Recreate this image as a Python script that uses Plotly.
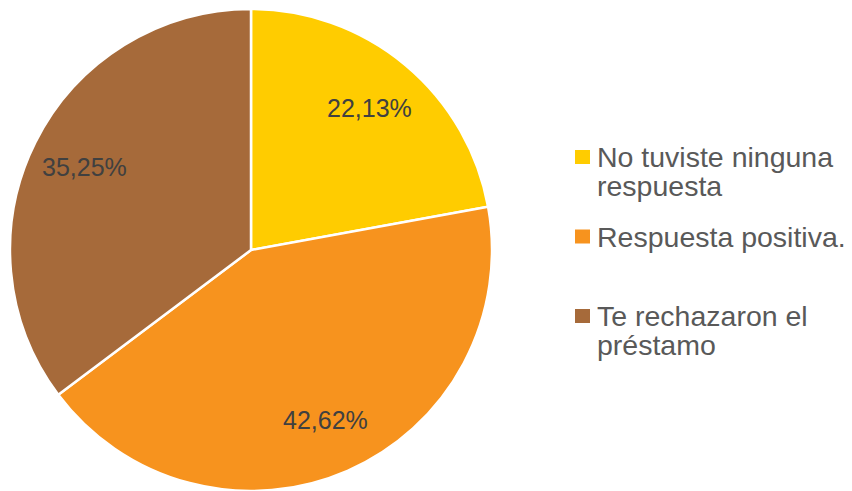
import math
import plotly.graph_objects as go

categories = ["No tuviste ninguna respuesta", "Respuesta positiva.", "Te rechazaron el préstamo"]
legend_lines = [["No tuviste ninguna", "respuesta"], ["Respuesta positiva."], ["Te rechazaron el", "préstamo"]]
values = [22.13, 42.62, 35.25]
text_labels = ["22,13%", "42,62%", "35,25%"]
colors = ["#FFCC00", "#F7931E", "#A66A3A"]

W, H = 852, 491
CX, CY, R = 251, 250, 241

fig = go.Figure(go.Pie(
    labels=categories,
    values=values,
    textinfo="none",
    sort=False,
    direction="clockwise",
    rotation=0,
    marker=dict(colors=colors, line=dict(color="white", width=2.5)),
    domain=dict(x=[(CX - R) / W, (CX + R) / W],
                y=[1 - (CY + R) / H, 1 - (CY - R) / H]),
    hoverinfo="skip",
    showlegend=False,
))

annotations = []
total = sum(values)
cum = 0.0
for v, t in zip(values, text_labels):
    mid = (cum + v / 2) / total * 2 * math.pi
    cum += v
    r = 0.77 * R
    px = CX + r * math.sin(mid)
    py = CY - r * math.cos(mid)
    annotations.append(dict(
        x=px / W, y=1 - py / H, xref="paper", yref="paper",
        text=t, showarrow=False, xanchor="center", yanchor="middle",
        font=dict(family="Liberation Sans, Arial, sans-serif", size=25, color="#404040"),
    ))

shapes = []
item_step = 79.5
line_step = 29
for i, lines in enumerate(legend_lines):
    y0 = 157 + i * item_step
    shapes.append(dict(
        type="rect", xref="paper", yref="paper",
        x0=575 / W, x1=590 / W, y0=1 - (y0 + 7) / H, y1=1 - (y0 - 7) / H,
        fillcolor=colors[i], line=dict(width=0),
    ))
    for j, ln in enumerate(lines):
        annotations.append(dict(
            x=595 / W, y=1 - (y0 + j * line_step) / H, xref="paper", yref="paper",
            text=ln, showarrow=False, xanchor="left", yanchor="middle",
            font=dict(family="Liberation Sans, Arial, sans-serif", size=28.5, color="#595959"),
        ))

fig.update_layout(
    width=W, height=H,
    margin=dict(l=0, r=0, t=0, b=0),
    paper_bgcolor="white",
    annotations=annotations,
    shapes=shapes,
)

fig.write_html("out.html", config={"displayModeBar": False},
               post_script="document.body.style.margin='0';")
